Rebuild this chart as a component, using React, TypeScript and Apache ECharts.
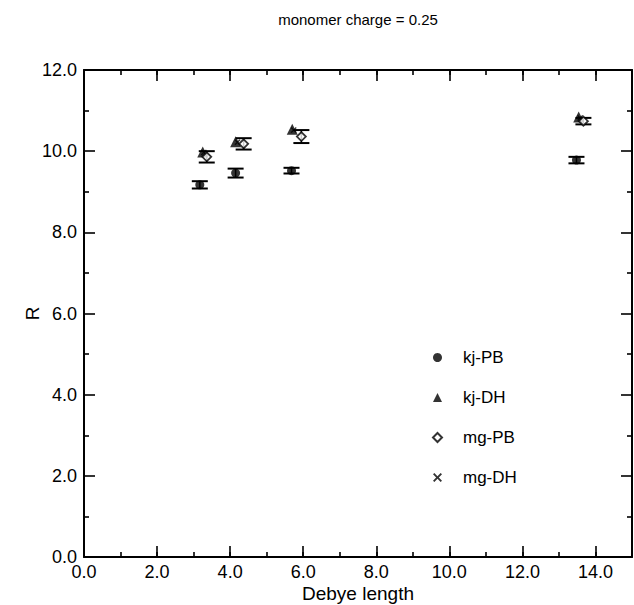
import React, { useEffect, useRef } from "react";
import * as echarts from "echarts";

const chartTitle = "monomer charge = 0.25";
const xName = "Debye length";
const yName = "R";
const seriesNames = ["kj-PB", "kj-DH", "mg-PB", "mg-DH"];

// kj-PB (filled circles, with error bars)
const kjPBx = [3.17, 4.15, 5.68, 13.48];
const kjPBy = [9.17, 9.46, 9.52, 9.78];
const kjPBerr = [0.09, 0.11, 0.07, 0.08];

// kj-DH (filled triangles)
const kjDHx = [3.25, 4.15, 5.7, 13.54];
const kjDHy = [9.98, 10.23, 10.54, 10.84];

// mg-PB (hollow diamonds, with error bars)
const mgPBx = [3.36, 4.37, 5.95, 13.67];
const mgPBy = [9.86, 10.18, 10.36, 10.74];
const mgPBerr = [0.14, 0.14, 0.16, 0.08];

// mg-DH (small crosses, mostly hidden under the triangles)
const mgDHx = [3.28, 4.2, 5.74, 13.58];
const mgDHy = [9.97, 10.22, 10.52, 10.82];

const xMin = 0;
const xMax = 15;
const yMin = 0;
const yMax = 12;

const FONT = "'Liberation Sans', Arial, Helvetica, sans-serif";
const CROSS =
  "path://M0,1.5 L1.5,0 L5,3.5 L8.5,0 L10,1.5 L6.5,5 L10,8.5 L8.5,10 L5,6.5 L1.5,10 L0,8.5 L3.5,5 Z";

const pairs = (xs: number[], ys: number[]) => xs.map((x, i) => [x, ys[i]]);
const triples = (xs: number[], ys: number[], es: number[]) =>
  xs.map((x, i) => [x, ys[i], es[i]]);

const errorBarRender = (params: any, api: any) => {
  const x = api.value(0);
  const y = api.value(1);
  const e = api.value(2);
  const top = api.coord([x, y + e]);
  const bot = api.coord([x, y - e]);
  const hw = 8;
  const st = { stroke: "#000", lineWidth: 2 };
  return {
    type: "group",
    children: [
      { type: "line", shape: { x1: top[0], y1: top[1], x2: bot[0], y2: bot[1] }, style: { stroke: "#000", lineWidth: 1.5 } },
      { type: "line", shape: { x1: top[0] - hw, y1: top[1], x2: top[0] + hw, y2: top[1] }, style: st },
      { type: "line", shape: { x1: bot[0] - hw, y1: bot[1], x2: bot[0] + hw, y2: bot[1] }, style: st },
    ],
  };
};

export default function App() {
  const ref = useRef<HTMLDivElement>(null);
  useEffect(() => {
    const chart = echarts.init(ref.current!, null, { renderer: "svg" });
    const axisLine = { show: true, onZero: false, lineStyle: { color: "#000", width: 2 } };
    const noLine = { show: false, onZero: false };
    const majorTick = { show: true, inside: true, length: 11, lineStyle: { color: "#000", width: 1.6 } };
    const minorT = { show: true, inside: true, length: 5, lineStyle: { color: "#000", width: 1.6 } };
    const label = { color: "#000", fontFamily: FONT, fontSize: 18 };
    const baseX = { type: "value", min: xMin, max: xMax, splitLine: { show: false } };
    const baseY = { type: "value", min: yMin, max: yMax, interval: 2, splitLine: { show: false } };
    const fmt = (v: number) => (v === xMax ? "" : v.toFixed(1));
    const option: any = {
      animation: false,
      backgroundColor: "#fff",
      grid: {
        left: 84,
        top: 70,
        width: 548,
        height: 487,
        containLabel: false,
        outerBoundsMode: "none",
      },
      graphic: [
        {
          type: "text",
          x: 358,
          y: 19,
          style: {
            text: chartTitle,
            fontFamily: FONT,
            fontSize: 15,
            fill: "#000",
            textAlign: "center",
            textVerticalAlign: "middle",
          },
        },
      ],
      legend: {
        orient: "vertical",
        left: 427,
        top: 343,
        itemWidth: 9,
        itemHeight: 9,
        itemGap: 21,
        data: seriesNames,
        textStyle: { color: "#000", fontFamily: FONT, fontSize: 17, lineHeight: 19, padding: [0, 0, 0, 16] },
      },
      xAxis: [
        {
          ...baseX,
          position: "bottom",
          interval: 2,
          name: xName,
          nameLocation: "middle",
          nameGap: 27,
          nameMoveOverlap: false,
          nameTextStyle: { color: "#000", fontFamily: FONT, fontSize: 19 },
          axisLine,
          axisTick: majorTick,
          axisLabel: { ...label, margin: 6, formatter: fmt },
        },
        {
          ...baseX,
          position: "bottom",
          interval: 1,
          axisLine: noLine,
          axisTick: minorT,
          axisLabel: { show: false },
        },
        {
          ...baseX,
          position: "top",
          interval: 2,
          axisLine,
          axisTick: majorTick,
          axisLabel: { show: false },
        },
        {
          ...baseX,
          position: "top",
          interval: 1,
          axisLine: noLine,
          axisTick: minorT,
          axisLabel: { show: false },
        },
      ],
      yAxis: [
        {
          ...baseY,
          position: "left",
          name: yName,
          nameLocation: "middle",
          nameGap: 42,
          nameMoveOverlap: false,
          nameTextStyle: { color: "#000", fontFamily: FONT, fontSize: 19 },
          axisLine,
          axisTick: majorTick,
          minorTick: { show: true, splitNumber: 2, length: 5, lineStyle: { color: "#000", width: 1.6 } },
          axisLabel: { ...label, margin: 7, formatter: (v: number) => v.toFixed(1) },
        },
        {
          ...baseY,
          position: "right",
          axisLine,
          axisTick: majorTick,
          minorTick: { show: true, splitNumber: 2, length: 5, lineStyle: { color: "#000", width: 1.6 } },
          axisLabel: { show: false },
        },
      ],
      series: [
        {
          type: "custom",
          name: "kj-PB-err",
          xAxisIndex: 0,
          yAxisIndex: 0,
          renderItem: errorBarRender,
          encode: { x: 0, y: 1 },
          data: triples(kjPBx, kjPBy, kjPBerr),
          z: 1,
          silent: true,
        },
        {
          type: "custom",
          name: "mg-PB-err",
          xAxisIndex: 0,
          yAxisIndex: 0,
          renderItem: errorBarRender,
          encode: { x: 0, y: 1 },
          data: triples(mgPBx, mgPBy, mgPBerr),
          z: 1,
          silent: true,
        },
        {
          type: "scatter",
          name: "kj-PB",
          xAxisIndex: 0,
          yAxisIndex: 0,
          symbol: "circle",
          symbolSize: 9,
          itemStyle: { color: "#000" },
          data: pairs(kjPBx, kjPBy),
          z: 3,
        },
        {
          type: "scatter",
          name: "kj-DH",
          xAxisIndex: 0,
          yAxisIndex: 0,
          symbol: "triangle",
          symbolSize: 11,
          itemStyle: { color: "#000" },
          data: pairs(kjDHx, kjDHy),
          z: 3,
        },
        {
          type: "scatter",
          name: "mg-PB",
          xAxisIndex: 0,
          yAxisIndex: 0,
          symbol: "diamond",
          symbolSize: 9,
          itemStyle: { color: "#fff", borderColor: "#000", borderWidth: 1.8 },
          data: pairs(mgPBx, mgPBy),
          z: 4,
        },
        {
          type: "scatter",
          name: "mg-DH",
          xAxisIndex: 0,
          yAxisIndex: 0,
          symbol: CROSS,
          symbolSize: 6,
          itemStyle: { color: "#000" },
          data: pairs(mgDHx, mgDHy),
          z: 2,
        },
      ],
    };
    chart.setOption(option);
    return () => chart.dispose();
  }, []);
  return (
    <div
      ref={ref}
      style={{ position: "fixed", left: 0, top: 0, width: 634, height: 605, background: "#fff" }}
    />
  );
}
